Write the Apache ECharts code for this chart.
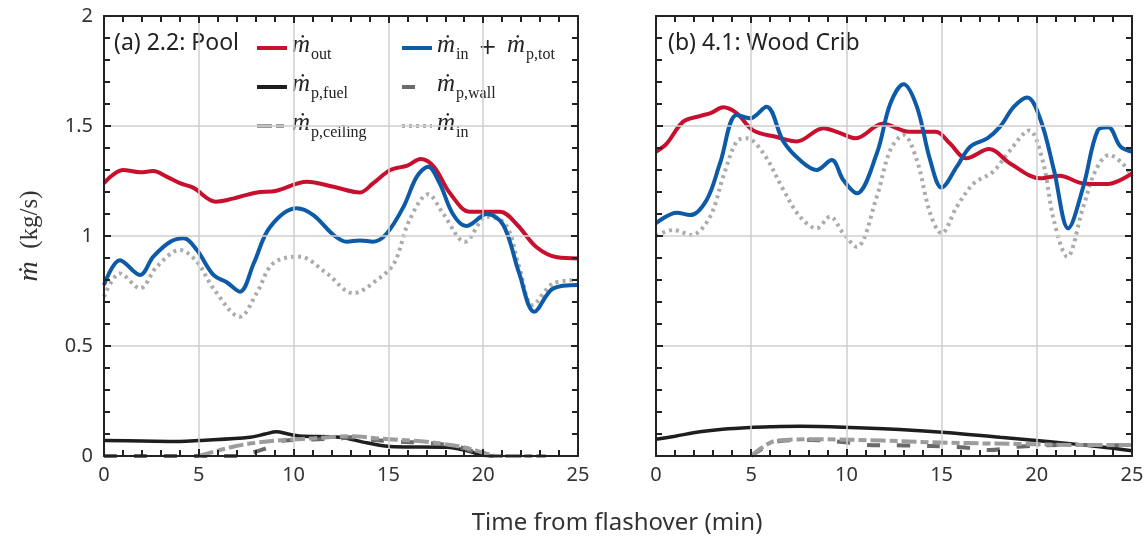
<!DOCTYPE html>
<html>
<head>
<meta charset="utf-8">
<script src="https://cdn.jsdelivr.net/npm/echarts@6/dist/echarts.min.js"></script>
<style>html,body{margin:0;padding:0;background:#fff;}#c{width:1148px;height:541px;}</style>
</head>
<body>
<div id="c"></div>
<script>
// ---- Data (time in min, mass flow in kg/s) ----
const xTicks = [0, 5, 10, 15, 20, 25];
const yTicks = [0, 0.5, 1, 1.5, 2];
const panelLabels = ['(a) 2.2: Pool', '(b) 4.1: Wood Crib'];
const seriesNames = ['out', 'inTot', 'fuel', 'wall', 'ceiling', 'in'];

const poolOut = [[0,1.24],[1,1.30],[1.9,1.29],[2.6,1.295],[3.3,1.27],[4,1.24],[4.7,1.22],[5.9,1.156],[6.8,1.17],[8,1.197],[9.1,1.206],[10.7,1.247],[12.1,1.224],[13.5,1.198],[14.2,1.24],[15.1,1.30],[16,1.32],[16.7,1.35],[17.4,1.315],[18.25,1.194],[19.3,1.11],[20.3,1.11],[20.9,1.11],[21.8,1.05],[22.8,0.95],[23.9,0.903],[25,0.898]];
const poolInTot = [[0,0.777],[0.84,0.89],[1.9,0.823],[2.6,0.906],[3.5,0.974],[4.2,0.99],[4.9,0.936],[5.77,0.823],[6.47,0.79],[7.17,0.747],[7.9,0.876],[8.75,1.04],[10.16,1.126],[11.04,1.095],[12.1,1.005],[12.8,0.974],[13.5,0.98],[14.2,0.974],[14.9,1.01],[15.8,1.133],[16.5,1.27],[17.1,1.315],[17.7,1.24],[18.4,1.10],[19.1,1.045],[20.2,1.10],[21.06,1.05],[21.9,0.83],[22.7,0.656],[23.7,0.762],[25,0.777]];
const poolIn = [[0,0.724],[0.84,0.83],[1.9,0.762],[2.78,0.86],[4,0.936],[4.9,0.883],[5.77,0.762],[7.17,0.633],[8.05,0.74],[8.93,0.876],[10.3,0.906],[11.75,0.83],[13.15,0.74],[14.4,0.80],[15.3,0.876],[16.1,1.07],[17.1,1.19],[17.9,1.10],[19.04,0.974],[20.2,1.088],[21.2,1.05],[21.9,0.86],[22.6,0.686],[23.7,0.785],[25,0.80]];
const poolFuel = [[0,0.07],[2,0.068],[4,0.066],[5,0.07],[7.7,0.085],[8.5,0.1],[9.1,0.11],[9.7,0.1],[10.3,0.091],[12.45,0.085],[13.85,0.06],[15.3,0.042],[18.1,0.04],[19.1,0.025],[19.9,0.005],[20.5,0]];
const poolWall = [[0,0],[7,0],[8,0.02],[8.7,0.04],[9.5,0.07],[11,0.075],[12.5,0.08],[13,0.085],[14,0.075],[15.5,0.065],[17,0.06],[18.5,0.045],[19.5,0.02],[20.3,0],[22,0]];
const poolCeiling = [[5,0],[6.8,0.042],[8,0.06],[9.5,0.073],[11,0.08],[13,0.09],[14.5,0.08],[15.6,0.073],[17,0.065],[18.25,0.05],[19.2,0.035],[20,0.015],[20.8,0],[23.3,0]];

const cribOut = [[0,1.383],[0.56,1.42],[1.43,1.52],[2.3,1.545],[2.9,1.56],[3.53,1.585],[4.24,1.558],[5.1,1.48],[6.34,1.45],[7.4,1.43],[8.79,1.49],[9.6,1.47],[10.5,1.444],[11.9,1.51],[13.3,1.474],[14.7,1.474],[15.44,1.42],[16.3,1.353],[17.5,1.395],[18.6,1.33],[20.2,1.262],[21.2,1.274],[22.4,1.24],[23.7,1.236],[25,1.285]];
const cribInTot = [[0,1.058],[1.09,1.106],[1.79,1.095],[2.66,1.164],[3.36,1.33],[4.24,1.55],[4.94,1.535],[5.8,1.588],[6.69,1.43],[7.56,1.345],[8.44,1.30],[9.23,1.345],[9.84,1.254],[10.54,1.194],[11.6,1.376],[12.3,1.60],[13,1.69],[13.7,1.588],[14.4,1.345],[15,1.22],[15.8,1.315],[16.5,1.406],[17.4,1.444],[18.07,1.497],[18.8,1.588],[19.5,1.63],[20.2,1.527],[20.9,1.30],[21.65,1.035],[22.44,1.224],[23.2,1.48],[23.75,1.494],[24.4,1.406],[25,1.383]];
const cribIn = [[0,1.0],[0.9,1.027],[1.87,1.005],[2.84,1.088],[3.53,1.27],[4.24,1.43],[4.76,1.444],[5.64,1.376],[6.69,1.21],[7.56,1.088],[8.44,1.035],[9.14,1.088],[9.84,1.012],[10.54,0.951],[11.6,1.18],[12.3,1.39],[13,1.459],[13.7,1.345],[14.4,1.103],[15,1.012],[15.8,1.133],[16.7,1.24],[17.7,1.292],[18.6,1.39],[19.6,1.48],[20.3,1.345],[20.9,1.07],[21.6,0.906],[22.44,1.133],[23.1,1.30],[23.8,1.368],[24.5,1.33],[25,1.27]];
const cribFuel = [[0,0.076],[1,0.09],[2.3,0.11],[3.5,0.122],[4.94,0.13],[6,0.133],[7.56,0.135],[10.2,0.13],[12.8,0.121],[15.4,0.106],[18.07,0.085],[20.7,0.065],[23.3,0.042],[25,0.024]];
const cribWall = [[5,0],[5.8,0.045],[6.5,0.068],[8,0.073],[10.2,0.06],[11,0.05],[13,0.048],[16,0.04],[17.5,0.027],[19,0.042],[21.7,0.05],[25,0.048]];
const cribCeiling = [[5,0],[5.6,0.04],[6.34,0.07],[8.44,0.076],[11.9,0.07],[15.4,0.06],[18.9,0.055],[22.4,0.05],[25,0.05]];

// ---- Styles ----
const styles = {
  out:     {color:'#c8102e', width:4, type:'solid'},
  inTot:   {color:'#0d5aa7', width:4, type:'solid'},
  fuel:    {color:'#1e1e1e', width:3.5, type:'solid'},
  wall:    {color:'#6a6a6a', width:4, type:[13,17]},
  ceiling: {color:'#9c9c9c', width:4, type:[15,4,8,4]},
  in:      {color:'#ababab', width:4, type:[3,4]}
};
const legendText = {
  out:     '{m|ṁ}{s|out}',
  inTot:   '{m|ṁ}{s|in}{op| + }{m|ṁ}{s|p,tot}',
  fuel:    '{m|ṁ}{s|p,fuel}',
  wall:    '{m|ṁ}{s|p,wall}',
  ceiling: '{m|ṁ}{s|p,ceiling}',
  in:      '{m|ṁ}{s|in}'
};
const serif = "'Liberation Serif','DejaVu Serif',serif";
const sans = "'Noto Sans','Open Sans',sans-serif";
const richMath = {
  m:  {fontFamily: serif, fontStyle:'italic', fontSize:25, color:'#222', verticalAlign:'bottom', padding:[0,0,5,0]},
  s:  {fontFamily: serif, fontSize:16, color:'#222', verticalAlign:'bottom', padding:[0,0,0,1]},
  op: {fontFamily: "'DejaVu Serif',serif", fontSize:22, color:'#222', verticalAlign:'bottom', padding:[0,3,4,3]}
};

const grids = [
  {left:104, top:16, width:474, height:440},
  {left:656, top:16, width:476, height:440}
];

function xAxisDef(gi, pos) {
  const bottom = pos === 'bottom';
  return {
    type:'value', gridIndex:gi, position:pos, min:xTicks[0], max:xTicks[xTicks.length-1], interval:5,
    axisLine:{show:true, onZero:false, lineStyle:{color:'#222', width:2}},
    axisTick:{show:true, inside:true, length:7, lineStyle:{color:'#222', width:2}},
    minorTick:{show:true, splitNumber:5, length:6, lineStyle:{color:'#222', width:2}},
    axisLabel:{show:bottom, fontSize:20, fontFamily:sans, color:'#333', margin:9},
    splitLine:{show:bottom, lineStyle:{color:'#cfcfcf', width:1.5}},
    z: 5
  };
}
function yAxisDef(gi, pos, labels) {
  const left = pos === 'left';
  return {
    type:'value', gridIndex:gi, position:pos, min:yTicks[0], max:yTicks[yTicks.length-1], interval:0.5,
    axisLine:{show:true, onZero:false, lineStyle:{color:'#222', width:2}},
    axisTick:{show:true, inside:true, length:7, lineStyle:{color:'#222', width:2}},
    minorTick:{show:true, splitNumber:5, length:6, lineStyle:{color:'#222', width:2}},
    axisLabel:{show:labels, fontSize:20, fontFamily:sans, color:'#333', margin:11},
    splitLine:{show:left, lineStyle:{color:'#cfcfcf', width:1.5}},
    z: 5
  };
}

const panelData = [
  {out:poolOut, inTot:poolInTot, fuel:poolFuel, wall:poolWall, ceiling:poolCeiling, in:poolIn},
  {out:cribOut, inTot:cribInTot, fuel:cribFuel, wall:cribWall, ceiling:cribCeiling, in:cribIn}
];
const drawOrder = ['fuel','wall','ceiling','in','out','inTot'];
const series = [];
panelData.forEach((pd, gi) => {
  drawOrder.forEach(name => {
    const st = styles[name];
    series.push({
      type:'line', name:name, xAxisIndex:gi*2, yAxisIndex:gi*2, data:pd[name],
      symbol:'none', smooth:0.35, color:st.color,
      itemStyle:{color:st.color, opacity:0},
      lineStyle:{color:st.color, width:st.width, type:st.type, cap:'butt'},
      z: 3
    });
  });
});

const legendCommon = {
  orient:'vertical', itemWidth:30, itemHeight:14, itemGap:9,
  selectedMode:false,
  itemStyle:{opacity:0},
  lineStyle:{width:4},
  formatter: n => legendText[n],
  textStyle:{rich:richMath, padding:[0,0,0,0]}
};

const option = {
  animation:false,
  backgroundColor:'#fff',
  grid: grids,
  xAxis:[xAxisDef(0,'bottom'), xAxisDef(0,'top'), xAxisDef(1,'bottom'), xAxisDef(1,'top')],
  yAxis:[yAxisDef(0,'left',true), yAxisDef(0,'right',false), yAxisDef(1,'left',false), yAxisDef(1,'right',false)],
  legend:[
    Object.assign({}, legendCommon, {left:250, top:28, data:['out','fuel','ceiling']}),
    Object.assign({}, legendCommon, {left:395, top:28, data:['inTot','wall','in']})
  ],
  graphic:[
    {type:'text', left:114, top:32, style:{text:panelLabels[0], font:"23px 'Noto Sans', sans-serif", fill:'#222'}},
    {type:'text', left:668, top:32, style:{text:panelLabels[1], font:"23px 'Noto Sans', sans-serif", fill:'#222'}},
    {type:'text', x:617, y:523, style:{text:'Time from flashover (min)', font:"24px 'Noto Sans', sans-serif", fill:'#333', align:'center', verticalAlign:'middle'}},
    {type:'text', x:30, y:236, rotation:Math.PI/2,
     style:{text:'{m|ṁ}{t|  (kg/s)}', align:'center', verticalAlign:'middle',
       rich:{m:{fontFamily:serif, fontStyle:'italic', fontSize:28, fill:'#333'}, t:{fontFamily:serif, fontSize:25, fill:'#333'}}}}
  ],
  series: series
};
echarts.init(document.getElementById('c')).setOption(option);
</script>
</body>
</html>
